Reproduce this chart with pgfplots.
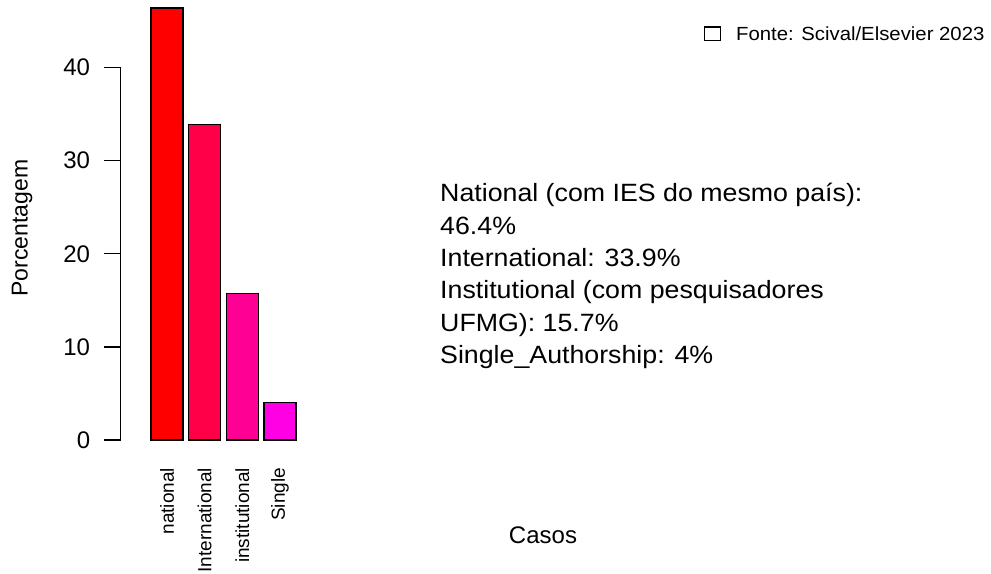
\documentclass[border=0pt]{standalone}
\usepackage{pgfplots}
\pgfplotsset{compat=1.18}
\usepackage{fontspec}
\setmainfont{Liberation Sans}
\definecolor{c1}{HTML}{FF0000}
\definecolor{c2}{HTML}{FF0048}
\definecolor{c3}{HTML}{FF0095}
\definecolor{c4}{HTML}{FF00E5}
\begin{document}
\begin{tikzpicture}
\path[use as bounding box] (0,0) rectangle (991bp,574bp);
\begin{axis}[
  at={(120.7bp,134bp)}, anchor=south west,
  scale only axis, width=181.9bp, height=372.4bp,
  xmin=-1.23, xmax=3.6, ymin=0, ymax=40,
  clip=false,
  axis y line*=left, axis x line*=bottom,
  x axis line style={draw=none},
  y axis line style={-, line width=1.3bp, black},
  ytick={0,10,20,30,40},
  ytick style={line width=1.3bp, black},
  ytick align=outside, major tick length=16.7bp,
  xtick={0,1,2,3},
  xticklabels={national,International,institutional,Single},
  xtick style={draw=none},
  xtick align=inside,
  xticklabel style={rotate=90, anchor=east, inner xsep=11bp, font=\fontsize{19bp}{22bp}\selectfont},
  yticklabel style={anchor=east, inner xsep=0pt, xshift=-13.7bp, font=\fontsize{24bp}{28bp}\selectfont},
  /pgf/number format/assume math mode=true,
  ybar, bar width=32bp,
]
\addplot[fill=c1, draw=black, line width=1.2bp, bar shift=0pt] coordinates {(0,46.4)};
\addplot[fill=c2, draw=black, line width=1.2bp, bar shift=0pt] coordinates {(1,33.9)};
\addplot[fill=c3, draw=black, line width=1.2bp, bar shift=0pt] coordinates {(2,15.7)};
\addplot[fill=c4, draw=black, line width=1.2bp, bar shift=0pt] coordinates {(3,4.0)};
\end{axis}
\node[rotate=90, font=\fontsize{23bp}{27bp}\selectfont] at (22bp,346bp) {Porcentagem};
\node[font=\fontsize{24bp}{28bp}\selectfont] at (543bp,39bp) {Casos};
\begin{scope}[every node/.style={anchor=base west, inner sep=0pt, font=\fontsize{25bp}{30bp}\selectfont\addfontfeature{FakeStretch=1.07}}]
\node at (440bp,372bp) {National (com IES do mesmo país):};
\node at (440bp,339.7bp) {46.4\%};
\node at (440bp,307.4bp) {International: 33.9\%};
\node at (440bp,275.1bp) {Institutional (com pesquisadores};
\node at (440bp,242.8bp) {UFMG): 15.7\%};
\node at (440bp,210.5bp) {Single\_Authorship: 4\%};
\end{scope}
\draw[line width=1.8bp, black] (704.5bp,547bp) rectangle (720.5bp,533.5bp);
\node[anchor=base west, inner sep=0pt, font=\fontsize{19bp}{22bp}\selectfont\addfontfeature{FakeStretch=1.07}] at (736bp,533.3bp) {Fonte: Scival/Elsevier 2023};
\end{tikzpicture}
\end{document}
